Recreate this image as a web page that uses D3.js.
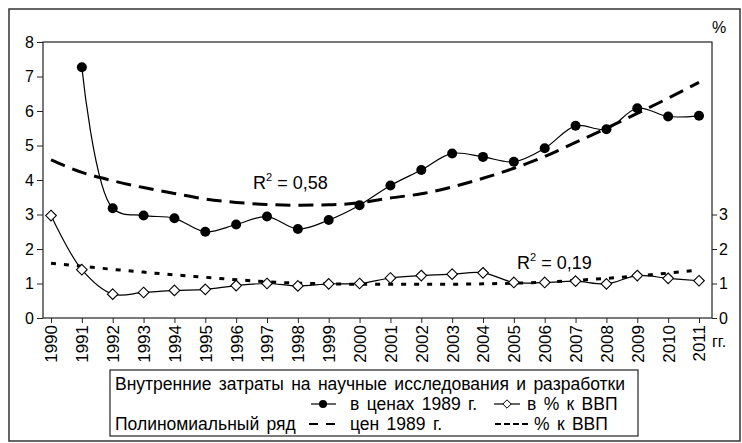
<!DOCTYPE html>
<html>
<head>
<meta charset="utf-8">
<script src="https://cdn.jsdelivr.net/npm/d3@7"></script>
<style>
body { margin: 0; background: #fff; }
text { font-family: "Liberation Sans", Arial, sans-serif; fill: #000; }
</style>
</head>
<body>
<div id="chart"></div>
<script>
var years = ["1990","1991","1992","1993","1994","1995","1996","1997","1998","1999","2000",
             "2001","2002","2003","2004","2005","2006","2007","2008","2009","2010","2011"];
// внутренние затраты в ценах 1989 г. (левая ось)
var rdPrices = [null, 7.27, 3.18, 2.97, 2.89, 2.5, 2.71, 2.94, 2.58, 2.84, 3.27,
                3.84, 4.29, 4.77, 4.67, 4.53, 4.92, 5.57, 5.47, 6.08, 5.84, 5.86];
// в % к ВВП (правая ось)
var rdGdp = [2.97, 1.4, 0.69, 0.74, 0.8, 0.83, 0.94, 1.0, 0.93, 0.99, 1.0,
             1.16, 1.23, 1.27, 1.31, 1.03, 1.03, 1.07, 0.99, 1.23, 1.15, 1.08];
// полиномиальные тренды
var trendPrices = [4.58, 4.22, 3.98, 3.78, 3.61, 3.45, 3.35, 3.29, 3.27, 3.28, 3.34,
                   3.48, 3.6, 3.8, 4.05, 4.34, 4.68, 5.09, 5.5, 5.93, 6.37, 6.83];
var trendGdp = [1.59, 1.5, 1.41, 1.33, 1.25, 1.18, 1.11, 1.05, 1.01, 0.99, 0.98,
                0.98, 0.98, 0.98, 0.99, 1.01, 1.04, 1.09, 1.15, 1.22, 1.3, 1.39];
var leftTicks = [0, 1, 2, 3, 4, 5, 6, 7, 8];
var rightTicks = [0, 1, 2, 3];
var r2Prices = "0,58";
var r2Gdp = "0,19";

var svgWidth = 742;
var svgHeight = 443;
var plot = {left: 43, top: 42, right: 712, bottom: 318};

var svg = d3.select("#chart")
    .append("svg")
    .attr("width", svgWidth)
    .attr("height", svgHeight);

// внешняя рамка
svg.append("rect")
    .attr("x", 9).attr("y", 9)
    .attr("width", 731).attr("height", 432)
    .attr("fill", "none")
    .attr("stroke", "#333")
    .attr("stroke-width", 1.5);

var x = d3.scalePoint()
    .domain(years)
    .range([51, 699]);

var yLeft = d3.scaleLinear()
    .domain([0, 8])
    .range([plot.bottom, plot.top]);

var yRight = d3.scaleLinear()
    .domain([0, 8])
    .range([plot.bottom, plot.top]);

// рамка области построения
svg.append("rect")
    .attr("x", plot.left).attr("y", plot.top)
    .attr("width", plot.right - plot.left)
    .attr("height", plot.bottom - plot.top)
    .attr("fill", "none")
    .attr("stroke", "#222")
    .attr("stroke-width", 1.2);

var leftAxis = svg.append("g")
    .attr("transform", `translate(${plot.left},0)`)
    .call(d3.axisLeft(yLeft).tickValues(leftTicks).tickSize(6).tickPadding(3).tickSizeOuter(0));
leftAxis.select(".domain").remove();

var rightAxis = svg.append("g")
    .attr("transform", `translate(${plot.right},0)`)
    .call(d3.axisRight(yRight).tickValues(rightTicks).tickSize(5).tickPadding(2).tickSizeOuter(0));
rightAxis.select(".domain").remove();

var bottomAxis = svg.append("g")
    .attr("transform", `translate(0,${plot.bottom})`)
    .call(d3.axisBottom(x).tickSize(5).tickSizeOuter(0));
bottomAxis.select(".domain").remove();

svg.selectAll(".tick text")
    .attr("font-size", 16)
    .attr("font-family", "Liberation Sans, Arial, sans-serif")
    .attr("fill", "#000");
svg.selectAll(".tick line").attr("stroke", "#222");

bottomAxis.selectAll("text")
    .attr("transform", "rotate(-90)")
    .attr("x", -7)
    .attr("y", 0)
    .attr("dy", ".35em")
    .attr("font-size", 17)
    .style("text-anchor", "end");

// подписи единиц
svg.append("text").attr("x", 712).attr("y", 33).attr("font-size", 16).text("%");
svg.append("text").attr("x", 712).attr("y", 347).attr("font-size", 16).text("гг.");

function rows(vals) {
    return years.map((yr, i) => ({year: yr, v: vals[i]}));
}

// тренды
var trendLine = d3.line()
    .x(d => x(d.year))
    .y(d => yLeft(d.v))
    .curve(d3.curveMonotoneX);

svg.append("path")
    .datum(rows(trendPrices))
    .attr("d", trendLine)
    .attr("fill", "none")
    .attr("stroke", "#000")
    .attr("stroke-width", 3)
    .attr("stroke-dasharray", "15,8");

svg.append("path")
    .datum(rows(trendGdp))
    .attr("d", d3.line().x(d => x(d.year)).y(d => yRight(d.v)).curve(d3.curveMonotoneX))
    .attr("fill", "none")
    .attr("stroke", "#000")
    .attr("stroke-width", 3)
    .attr("stroke-dasharray", "5,8");

// ряды
var pricesData = rows(rdPrices).filter(d => d.v != null);
svg.append("path")
    .datum(pricesData)
    .attr("d", d3.line().x(d => x(d.year)).y(d => yLeft(d.v)).curve(d3.curveCatmullRom))
    .attr("fill", "none")
    .attr("stroke", "#000")
    .attr("stroke-width", 1.2);

var gdpData = rows(rdGdp);
svg.append("path")
    .datum(gdpData)
    .attr("d", d3.line().x(d => x(d.year)).y(d => yRight(d.v)).curve(d3.curveCatmullRom))
    .attr("fill", "none")
    .attr("stroke", "#000")
    .attr("stroke-width", 1.2);

svg.selectAll(".dot")
    .data(pricesData)
    .enter()
    .append("circle")
    .attr("class", "dot")
    .attr("cx", d => x(d.year))
    .attr("cy", d => yLeft(d.v))
    .attr("r", 5)
    .attr("fill", "#000");

var diamond = d3.symbol().type(d3.symbolDiamond2).size(72);
svg.selectAll(".dia")
    .data(gdpData)
    .enter()
    .append("path")
    .attr("class", "dia")
    .attr("d", diamond)
    .attr("transform", d => `translate(${x(d.year)},${yRight(d.v)})`)
    .attr("fill", "#fff")
    .attr("stroke", "#000")
    .attr("stroke-width", 1.1);

// R^2
function r2Label(px, py, val) {
    var t = svg.append("text").attr("x", px).attr("y", py).attr("font-size", 18);
    t.append("tspan").text("R");
    t.append("tspan").attr("font-size", 11).attr("dy", -8).text("2");
    t.append("tspan").attr("dy", 8).text(" = " + val);
}
r2Label(253, 189, r2Prices);
r2Label(517, 269, r2Gdp);

// легенда
var lg = svg.append("g");
lg.append("rect")
    .attr("x", 110).attr("y", 370)
    .attr("width", 528).attr("height", 66)
    .attr("fill", "#fff")
    .attr("stroke", "#222")
    .attr("stroke-width", 1.2);

var lfs = 17.5;
function legText(px, py, s) {
    return lg.append("text").attr("x", px).attr("y", py)
        .attr("font-size", lfs)
        .attr("word-spacing", 2.5)
        .text(s);
}
legText(115, 390, "Внутренние затраты на научные исследования и разработки");

lg.append("line").attr("x1", 311).attr("x2", 336).attr("y1", 404).attr("y2", 404)
    .attr("stroke", "#000").attr("stroke-width", 1.2);
lg.append("circle").attr("cx", 323).attr("cy", 404).attr("r", 4).attr("fill", "#000");
legText(350, 410, "в ценах 1989 г.");

lg.append("line").attr("x1", 494).attr("x2", 520).attr("y1", 404).attr("y2", 404)
    .attr("stroke", "#000").attr("stroke-width", 1.2);
lg.append("path").attr("d", d3.symbol().type(d3.symbolDiamond2).size(45))
    .attr("transform", "translate(507,404)")
    .attr("fill", "#fff").attr("stroke", "#000");
legText(527, 410, "в % к ВВП");

legText(115, 430, "Полиномиальный ряд");
lg.append("line").attr("x1", 309).attr("x2", 335).attr("y1", 424).attr("y2", 424)
    .attr("stroke", "#000").attr("stroke-width", 2).attr("stroke-dasharray", "9,8");
legText(350, 430, "цен 1989 г.");
lg.append("line").attr("x1", 495).attr("x2", 528).attr("y1", 424).attr("y2", 424)
    .attr("stroke", "#000").attr("stroke-width", 2).attr("stroke-dasharray", "6,3");
legText(534, 430, "% к ВВП");
</script>
</body>
</html>
